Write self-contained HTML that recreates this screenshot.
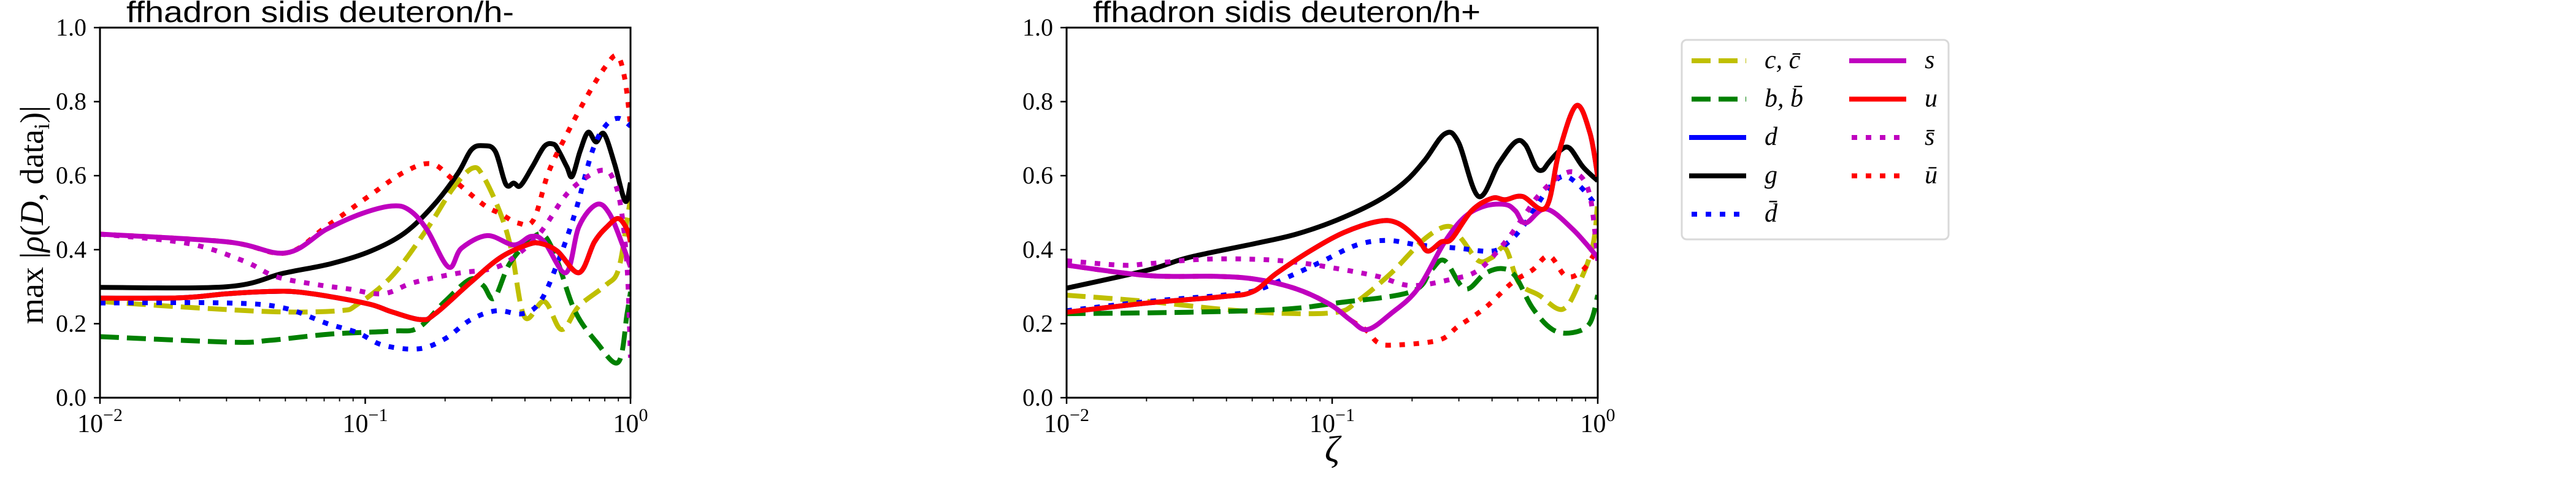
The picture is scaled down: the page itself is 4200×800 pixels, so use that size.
<!DOCTYPE html>
<html><head><meta charset="utf-8"><style>
html,body{margin:0;padding:0;background:#fff;}
svg{display:block;}
text{font-family:"Liberation Serif",serif;}
</style></head><body>
<svg id="chart" width="4200" height="800" viewBox="0 0 4200 800" xmlns="http://www.w3.org/2000/svg">
<defs>
<clipPath id="clipL"><rect x="163" y="45" width="865" height="603"/></clipPath>
<clipPath id="clipR"><rect x="1739" y="45" width="866" height="603"/></clipPath>
</defs>
<g id="layer"></g>
</svg>
<script>
// ---- data (x = log10(zeta), y = max |rho|) ----
const leftG_x=[-2,-1.52,-1.31,-1.13,-0.98,-0.85,-0.74,-0.65,-0.6,-0.555,-0.51,-0.47,-0.44,-0.415,-0.37,-0.325,-0.29,-0.27,-0.24,-0.22,-0.19,-0.16,-0.13,-0.1,-0.06,-0.02,0];
const leftG_y=[.298,.30,.336,.362,.396,.446,.522,.607,.67,.681,.666,.577,.58,.573,.624,.679,.685,.666,.624,.598,.666,.717,.691,.713,.632,.531,.581];
const leftU_x=[-2,-1.70,-1.52,-1.36,-1.26,-1.13,-0.98,-0.90,-0.79,-0.736,-0.604,-0.49,-0.39,-0.34,-0.276,-0.194,-0.136,-0.087,-0.046,-0.013,0];
const leftU_y=[.269,.27,.281,.287,.286,.273,.252,.232,.211,.227,.311,.379,.413,.417,.396,.338,.421,.463,.484,.455,.421];
const leftS_x=[-2,-1.52,-1.30,-1.146,-1.015,-0.90,-0.834,-0.768,-0.686,-0.637,-0.54,-0.44,-0.374,-0.325,-0.243,-0.194,-0.128,-0.079,-0.03,0];
const leftS_y=[.442,.421,.391,.455,.497,.518,.507,.455,.353,.404,.438,.413,.436,.421,.338,.463,.522,.497,.413,.353];
const leftUbar_x=[-2,-1.52,-1.30,-1.146,-0.98,-0.85,-0.75,-0.67,-0.555,-0.49,-0.424,-0.366,-0.31,-0.243,-0.161,-0.095,-0.05,-0.021,0];
const leftUbar_y=[.442,.421,.391,.463,.548,.611,.632,.59,.522,.497,.472,.48,.607,.708,.818,.894,.924,.86,.734];
const leftSbar_x=[-2,-1.67,-1.46,-1.34,-1.195,-1.064,-0.933,-0.818,-0.654,-0.522,-0.44,-0.34,-0.243,-0.161,-0.103,-0.07,-0.038,-0.013,0];
const leftSbar_y=[.442,.417,.37,.328,.307,.294,.281,.311,.336,.349,.379,.446,.548,.598,.615,.598,.522,.353,.108];
const leftC_x=[-2,-1.64,-1.327,-1.097,-1.03,-0.90,-0.768,-0.67,-0.596,-0.555,-0.49,-0.448,-0.399,-0.325,-0.26,-0.194,-0.095,-0.046,-0.013,0];
const leftC_y=[.26,.243,.232,.235,.252,.328,.455,.565,.62,.598,.497,.396,.218,.26,.184,.248,.303,.345,.48,.539];
const leftB_x=[-2,-1.507,-1.36,-1.13,-0.90,-0.80,-0.70,-0.604,-0.555,-0.514,-0.456,-0.374,-0.325,-0.276,-0.21,-0.128,-0.046,-0.013,0];
const leftB_y=[.165,.15,.155,.172,.18,.189,.26,.32,.303,.269,.362,.429,.438,.37,.235,.15,.096,.227,.286];
const leftDbar_x=[-2,-1.52,-1.31,-1.146,-1.03,-0.933,-0.80,-0.70,-0.604,-0.506,-0.407,-0.34,-0.276,-0.21,-0.144,-0.095,-0.046,0];
const leftDbar_y=[.256,.256,.243,.201,.176,.142,.132,.159,.21,.235,.227,.26,.362,.497,.666,.734,.755,.734];

const rightG_x=[-2,-1.693,-1.54,-1.287,-1.135,-0.982,-0.83,-0.728,-0.652,-0.576,-0.525,-0.449,-0.373,-0.31,-0.272,-0.234,-0.208,-0.183,-0.145,-0.107,-0.056,0];
const rightG_y=[.296,.345,.379,.417,.442,.48,.531,.582,.641,.713,.691,.544,.632,.691,.683,.624,.615,.637,.666,.675,.624,.586];
const rightU_x=[-2,-1.693,-1.414,-1.30,-1.21,-1.084,-0.957,-0.83,-0.754,-0.678,-0.64,-0.589,-0.55,-0.475,-0.398,-0.348,-0.284,-0.195,-0.145,-0.081,-0.03,0];
const rightU_y=[.231,.256,.273,.286,.336,.396,.446,.476,.472,.429,.396,.421,.429,.505,.539,.535,.544,.514,.666,.789,.717,.598];
const rightS_x=[-2,-1.693,-1.439,-1.287,-1.135,-1.008,-0.931,-0.868,-0.779,-0.678,-0.576,-0.5,-0.424,-0.348,-0.31,-0.272,-0.195,-0.094,0];
const rightS_y=[.358,.33,.328,.32,.294,.252,.21,.184,.227,.294,.421,.489,.518,.522,.505,.472,.51,.455,.379];
const rightUbar_x=[-2,-1.693,-1.439,-1.287,-1.135,-1.008,-0.931,-0.868,-0.83,-0.779,-0.601,-0.525,-0.424,-0.322,-0.246,-0.183,-0.119,-0.056,0];
const rightUbar_y=[.358,.33,.328,.32,.294,.252,.21,.18,.15,.142,.155,.193,.243,.311,.345,.383,.328,.345,.404];
const rightSbar_x=[-2,-1.794,-1.693,-1.49,-1.287,-1.135,-0.982,-0.83,-0.703,-0.551,-0.449,-0.348,-0.272,-0.221,-0.145,-0.081,-0.03,0];
const rightSbar_y=[.37,.358,.362,.374,.374,.366,.349,.328,.303,.32,.345,.421,.497,.548,.598,.607,.548,.37];
const rightDbar_x=[-2,-1.693,-1.414,-1.287,-1.16,-1.033,-0.906,-0.792,-0.678,-0.525,-0.398,-0.335,-0.272,-0.195,-0.132,-0.069,0];
const rightDbar_y=[.235,.26,.277,.29,.328,.37,.413,.425,.413,.404,.396,.421,.472,.556,.598,.573,.514];
const rightC_x=[-2,-1.693,-1.414,-1.185,-0.982,-0.906,-0.779,-0.652,-0.563,-0.513,-0.449,-0.398,-0.348,-0.297,-0.221,-0.132,-0.069,-0.018,0];
const rightC_y=[.277,.26,.239,.228,.231,.26,.336,.429,.463,.429,.37,.379,.404,.311,.277,.239,.311,.413,.531];
const rightB_x=[-2,-1.54,-1.185,-0.982,-0.703,-0.627,-0.576,-0.5,-0.424,-0.36,-0.31,-0.246,-0.17,-0.094,-0.03,0];
const rightB_y=[.227,.231,.239,.256,.286,.345,.37,.294,.336,.349,.328,.243,.184,.176,.201,.277];

const yTicks=[0,0.2,0.4,0.6,0.8,1.0];
const yTickLabels=["0.0","0.2","0.4","0.6","0.8","1.0"];
const xMajor=[-2,-1,0];
const xMajorExp=["−2","−1","0"];

const NS="http://www.w3.org/2000/svg";
const layer=document.getElementById('layer');
function mk(tag,attrs,parent){const e=document.createElementNS(NS,tag);for(const k in attrs)e.setAttribute(k,attrs[k]);(parent||layer).appendChild(e);return e;}

const styles={
 c:{color:"#bfbf00",dash:"31,13"}, b:{color:"#008000",dash:"31,13"},
 d:{color:"#0000ff",dash:null}, g:{color:"#000000",dash:null},
 dbar:{color:"#0000ff",dash:"9,14"}, s:{color:"#bf00bf",dash:null},
 u:{color:"#ff0000",dash:null}, sbar:{color:"#bf00bf",dash:"9,14"},
 ubar:{color:"#ff0000",dash:"9,14"}
};

function smoothPath(px,py){
 let d='M'+px[0].toFixed(1)+','+py[0].toFixed(1);
 for(let i=0;i<px.length-1;i++){
  const x0=px[Math.max(i-1,0)],y0=py[Math.max(i-1,0)];
  const x1=px[i],y1=py[i],x2=px[i+1],y2=py[i+1];
  const x3=px[Math.min(i+2,px.length-1)],y3=py[Math.min(i+2,px.length-1)];
  const t=0.17;
  const c1x=x1+(x2-x0)*t,c1y=y1+(y2-y0)*t;
  const c2x=x2-(x3-x1)*t,c2y=y2-(y3-y1)*t;
  d+='C'+c1x.toFixed(1)+','+c1y.toFixed(1)+' '+c2x.toFixed(1)+','+c2y.toFixed(1)+' '+x2.toFixed(1)+','+y2.toFixed(1);
 }
 return d;
}

function panel(id,x0,x1,y0,y1,title,series,showYLabel,showXLabel){
 const g=mk('g',{});
 
 
 const sx=l=>x0+(l+2)/2*(x1-x0);
 const sy=v=>y1-v*(y1-y0);
 const plot=mk('g',{'clip-path':'url(#'+(id==='left-panel'?'clipL':'clipR')+')'},g);
 for(const s of series){
  const st=styles[s.key];
  const d=smoothPath(s.x.map(sx),s.y.map(sy));
  const p=mk('path',{d:d,fill:'none',stroke:st.color,'stroke-width':8,'stroke-linejoin':'round'},plot);
  if(st.dash)p.setAttribute('stroke-dasharray',st.dash);
  
  
 }
 const fr=mk('rect',{x:x0,y:y0,width:x1-x0,height:y1-y0,fill:'none',stroke:'#000','stroke-width':3},g);
 
 
 yTicks.forEach((t,i)=>{
  mk('line',{x1:x0-10,x2:x0,y1:sy(t),y2:sy(t),stroke:'#000','stroke-width':2.5},g);
  const tx=mk('text',{x:x0-22,y:sy(t)+13,'font-size':40,'text-anchor':'end'},g);
  tx.textContent=yTickLabels[i];
  
  
 });
 xMajor.forEach((t,i)=>{
  mk('line',{x1:sx(t),x2:sx(t),y1:y1,y2:y1+10,stroke:'#000','stroke-width':2.5},g);
  const tx=mk('text',{x:sx(t),y:y1+56,'font-size':42,'text-anchor':'middle'},g);
  tx.textContent='10';
  const ts=mk('tspan',{dy:-18,'font-size':30},tx);
  ts.textContent=xMajorExp[i];
  
  
 });
 for(let dec=-2;dec<0;dec++){for(let m=2;m<=9;m++){const l=dec+Math.log10(m);
  mk('line',{x1:sx(l),x2:sx(l),y1:y1,y2:y1+6,stroke:'#000','stroke-width':1.8},g);}}
 const tt=mk('text',{x:x0+43,y:36,'font-size':48,style:'font-family:"Liberation Sans",sans-serif','textLength':632,'lengthAdjust':'spacingAndGlyphs'},g);
 tt.textContent=title;
 
 
 if(showYLabel){
  const yl=mk('text',{x:0,y:0,'font-size':54,'text-anchor':'middle',transform:'translate(70,350) rotate(-90)'},g);
  yl.innerHTML='max |<tspan font-style="italic">ρ</tspan>(<tspan font-style="italic">D</tspan>, data<tspan font-size="36" dy="10">i</tspan><tspan dy="-10">)|</tspan>';
  
  
 }
 if(showXLabel){
  const xl=mk('text',{x:(x0+x1)/2,y:752,'font-size':60,'font-style':'italic','text-anchor':'middle'},g);
  xl.textContent='ζ';
  
  
 }
}

panel('left-panel',163,1028,45,648,'ffhadron sidis deuteron/h-',[
 {key:'u',x:leftU_x,y:leftU_y},{key:'d',x:leftU_x,y:leftU_y},
 {key:'c',x:leftC_x,y:leftC_y},{key:'b',x:leftB_x,y:leftB_y},
 {key:'g',x:leftG_x,y:leftG_y},{key:'dbar',x:leftDbar_x,y:leftDbar_y},
 {key:'ubar',x:leftUbar_x,y:leftUbar_y},{key:'sbar',x:leftSbar_x,y:leftSbar_y},
 {key:'s',x:leftS_x,y:leftS_y},{key:'u',x:leftU_x,y:leftU_y}
],true,false);
panel('right-panel',1739,2605,45,648,'ffhadron sidis deuteron/h+',[
 {key:'d',x:rightU_x,y:rightU_y},
 {key:'c',x:rightC_x,y:rightC_y},{key:'b',x:rightB_x,y:rightB_y},
 {key:'g',x:rightG_x,y:rightG_y},{key:'dbar',x:rightDbar_x,y:rightDbar_y},
 {key:'ubar',x:rightUbar_x,y:rightUbar_y},{key:'sbar',x:rightSbar_x,y:rightSbar_y},
 {key:'s',x:rightS_x,y:rightS_y},{key:'u',x:rightU_x,y:rightU_y}
],false,true);

// legend
const lg=mk('g',{});


mk('rect',{x:2742,y:65,width:435,height:325,rx:8,fill:'#fff',stroke:'#d9d9d9','stroke-width':3},lg);
const legendEntries=[
 {key:'c',label:'c, c̄',col:0,row:0},{key:'b',label:'b, b̄',col:0,row:1},
 {key:'d',label:'d',col:0,row:2},{key:'g',label:'g',col:0,row:3},
 {key:'dbar',label:'d̄',col:0,row:4},{key:'s',label:'s',col:1,row:0},
 {key:'u',label:'u',col:1,row:1},{key:'sbar',label:'s̄',col:1,row:2},
 {key:'ubar',label:'ū',col:1,row:3}
];
legendEntries.forEach(e=>{
 const st=styles[e.key];
 const lx=e.col?3015:2754, y=99+e.row*62.5;
 const eg=mk('g',{},lg);
 
 
 const l=mk('line',{x1:lx+(st.dash?4:0),x2:lx+93,y1:y,y2:y,stroke:st.color,'stroke-width':8},eg);
 if(st.dash)l.setAttribute('stroke-dasharray',st.dash);
 const t=mk('text',{x:lx+123,y:y+12,'font-size':42,'font-style':'italic'},eg);
 t.textContent=e.label;
});
</script>
</body></html>
